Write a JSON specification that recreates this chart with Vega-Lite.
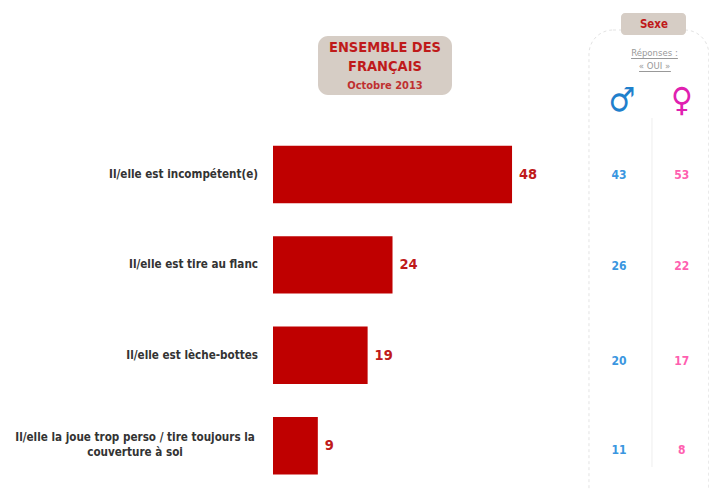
{
"$schema":"https://vega.github.io/schema/vega-lite/v6.json",
"width":709,"height":489,"padding":0,
"autosize":{"type":"fit","contains":"padding"},
"background":"white",
"config":{"view":{"stroke":null},"text":{"font":"DejaVu Sans Condensed"}},
"data":{"values":[
{"item":"Il/elle est incompétent(e)","ensemble":48,"hommes":43,"femmes":53},
{"item":"Il/elle est tire au flanc","ensemble":24,"hommes":26,"femmes":22},
{"item":"Il/elle est lèche-bottes","ensemble":19,"hommes":20,"femmes":17},
{"item":"Il/elle la joue trop perso / tire toujours la|couverture à soi","ensemble":9,"hommes":11,"femmes":8}
]},
"encoding":{"x":{"type":"quantitative","scale":{"domain":[-54.82,87.55],"range":[0,709],"nice":false,"zero":false},"axis":null}},
"layer":[
{"encoding":{"y":{"field":"item","type":"nominal","sort":null,"axis":null,"scale":{"range":[129.3,490.9],"paddingInner":0.365,"paddingOuter":0.1825}}},
"layer":[
{"mark":{"type":"bar","color":"#bf0000"},"encoding":{"x":{"field":"ensemble","type":"quantitative"}}},
{"mark":{"type":"text","align":"left","dx":7,"dy":0.5,"fontWeight":"bold","fontSize":14.5,"color":"#bf1a1a"},"encoding":{"x":{"field":"ensemble","type":"quantitative"},"text":{"field":"ensemble"}}},
{"transform":[{"filter":"indexof(datum.item,'|')<0"}],"mark":{"type":"text","align":"right","dy":0.5,"fontWeight":"bold","fontSize":11.6,"color":"#333333"},"encoding":{"x":{"datum":-3.01},"text":{"field":"item"}}},
{"transform":[{"filter":"indexof(datum.item,'|')>=0"}],"mark":{"type":"text","align":"center","dy":-7.5,"fontWeight":"bold","fontSize":11.6,"color":"#333333","lineBreak":"|","lineHeight":14.5},"encoding":{"x":{"datum":-27.7},"text":{"field":"item"}}},
{"transform":[{"filter":"datum.ensemble==48"}],"mark":{"type":"text","fontWeight":"bold","fontSize":12,"color":"#3a96e0"},"encoding":{"x":{"datum":69.5},"text":{"field":"hommes"}}},
{"transform":[{"filter":"datum.ensemble==48"}],"mark":{"type":"text","fontWeight":"bold","fontSize":12,"color":"#ff5fb0"},"encoding":{"x":{"datum":82.1},"text":{"field":"femmes"}}},
{"transform":[{"filter":"datum.ensemble==24"}],"mark":{"type":"text","dy":1.5,"fontWeight":"bold","fontSize":12,"color":"#3a96e0"},"encoding":{"x":{"datum":69.5},"text":{"field":"hommes"}}},
{"transform":[{"filter":"datum.ensemble==24"}],"mark":{"type":"text","dy":1.5,"fontWeight":"bold","fontSize":12,"color":"#ff5fb0"},"encoding":{"x":{"datum":82.1},"text":{"field":"femmes"}}},
{"transform":[{"filter":"datum.ensemble==19"}],"mark":{"type":"text","dy":5.5,"fontWeight":"bold","fontSize":12,"color":"#3a96e0"},"encoding":{"x":{"datum":69.5},"text":{"field":"hommes"}}},
{"transform":[{"filter":"datum.ensemble==19"}],"mark":{"type":"text","dy":5.5,"fontWeight":"bold","fontSize":12,"color":"#ff5fb0"},"encoding":{"x":{"datum":82.1},"text":{"field":"femmes"}}},
{"transform":[{"filter":"datum.ensemble==9"}],"mark":{"type":"text","dy":4,"fontWeight":"bold","fontSize":12,"color":"#3a96e0"},"encoding":{"x":{"datum":69.5},"text":{"field":"hommes"}}},
{"transform":[{"filter":"datum.ensemble==9"}],"mark":{"type":"text","dy":4,"fontWeight":"bold","fontSize":12,"color":"#ff5fb0"},"encoding":{"x":{"datum":82.1},"text":{"field":"femmes"}}}
]},
{"data":{"values":[{}]},
"encoding":{},
"layer":[
{"mark":{"type":"rect","fill":"#d6cdc5","cornerRadius":10},"encoding":{"x":{"datum":9.04},"x2":{"datum":35.94},"y":{"datum":36,"type":"quantitative","scale":{"domain":[0,489],"range":[0,489],"nice":false,"zero":false},"axis":null},"y2":{"datum":95}}},
{"mark":{"type":"rect","fill":null,"filled":false,"stroke":"#e3e3e3","strokeDash":[3,3],"cornerRadius":24,"clip":true},"encoding":{"x":{"datum":63.45},"x2":{"datum":87.5},"y":{"datum":30,"type":"quantitative"},"y2":{"datum":530}}},
{"mark":{"type":"rect","fill":"#d6cdc5","cornerRadius":4},"encoding":{"x":{"datum":69.88},"x2":{"datum":82.93},"y":{"datum":13,"type":"quantitative"},"y2":{"datum":35}}},
{"mark":{"type":"rule","stroke":"#eeeeee"},"encoding":{"x":{"datum":76.1},"y":{"datum":118,"type":"quantitative"},"y2":{"datum":467}}},
{"mark":{"type":"rule","stroke":"#999999"},"encoding":{"x":{"datum":71.9},"x2":{"datum":81.3},"y":{"datum":58.5,"type":"quantitative"}}},
{"mark":{"type":"rule","stroke":"#999999"},"encoding":{"x":{"datum":73.5},"x2":{"datum":79.9},"y":{"datum":71.5,"type":"quantitative"}}},
{"mark":{"type":"text","text":"ENSEMBLE DES","fontWeight":"bold","fontSize":14.5,"color":"#bf1a1a"},"encoding":{"x":{"datum":22.49},"y":{"datum":48,"type":"quantitative"}}},
{"mark":{"type":"text","text":"FRANÇAIS","fontWeight":"bold","fontSize":14.5,"color":"#bf1a1a"},"encoding":{"x":{"datum":22.49},"y":{"datum":67,"type":"quantitative"}}},
{"mark":{"type":"text","text":"Octobre 2013","fontWeight":"bold","fontSize":11,"color":"#bf3030"},"encoding":{"x":{"datum":22.49},"y":{"datum":86,"type":"quantitative"}}},
{"mark":{"type":"text","text":"Sexe","fontWeight":"bold","fontSize":11.5,"color":"#bf1a1a"},"encoding":{"x":{"datum":76.5},"y":{"datum":24.5,"type":"quantitative"}}},
{"mark":{"type":"text","text":"Réponses :","fontSize":9.5,"color":"#999999"},"encoding":{"x":{"datum":76.6},"y":{"datum":52.5,"type":"quantitative"}}},
{"mark":{"type":"text","text":"« OUI »","fontSize":9.5,"color":"#999999"},"encoding":{"x":{"datum":76.6},"y":{"datum":66,"type":"quantitative"}}},
{"mark":{"type":"text","text":"♂","fontSize":33,"color":"#1f80cc"},"encoding":{"x":{"datum":70.05},"y":{"datum":101,"type":"quantitative"}}},
{"mark":{"type":"text","text":"♀","fontSize":33,"color":"#e020b0"},"encoding":{"x":{"datum":82.1},"y":{"datum":101,"type":"quantitative"}}}
]}
],
"resolve":{"scale":{"y":"independent"}}
}
